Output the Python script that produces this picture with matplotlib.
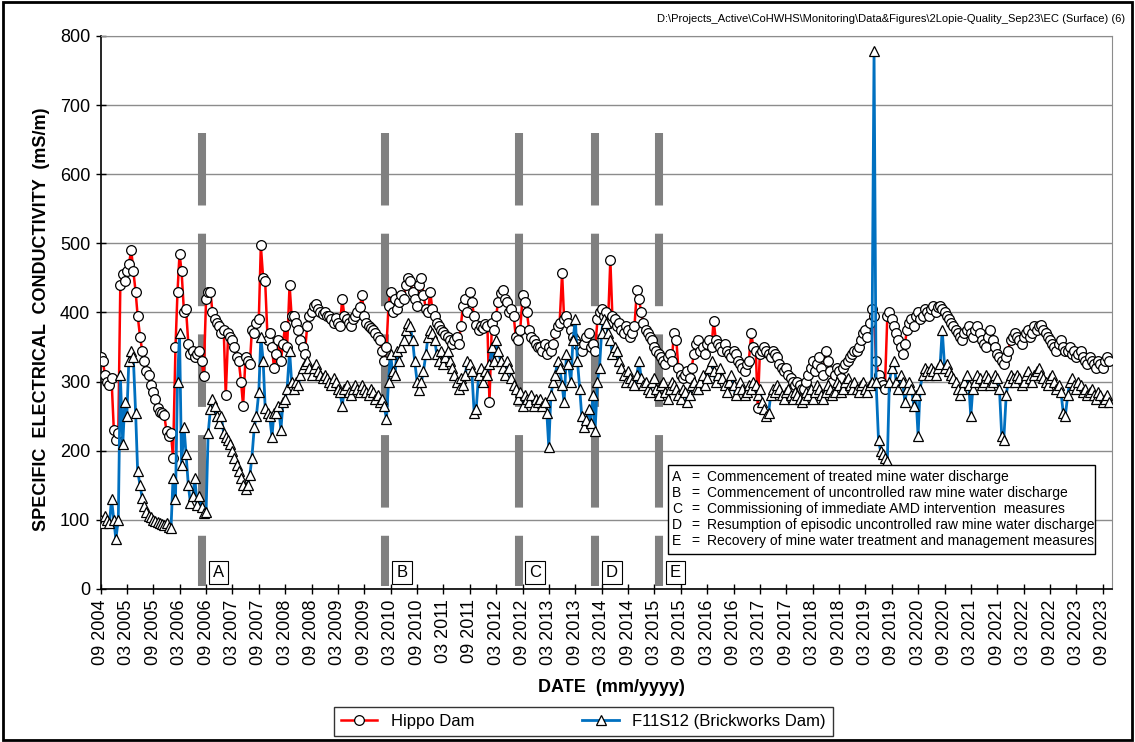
import matplotlib
matplotlib.use("Agg")
import matplotlib.pyplot as plt
import matplotlib.dates as mdates
from matplotlib.patches import Rectangle
import numpy as np
import pandas as pd

plt.rcParams["font.family"] = ["Liberation Sans", "DejaVu Sans"]

# semi-monthly samples (1st / 15th), Sep 2004 -> Oct 2023, one row per year
START = "2004-09-01"
hippo = [
    335, 330, 310, 300, 295, 305, 230, 215,
    225, 440, 455, 445, 460, 470, 490, 460, 430, 395, 365, 345, 330, 315, 310, 295, 285, 275, 262, 256, 254, 252, 228, 222,
    225, 190, 350, 430, 485, 460, 400, 405, 355, 340, 345, 335, 340, 345, 330, 308, 420, 430, 430, 400, 390, 385, 380, 370,
    375, 280, 370, 365, 360, 350, 335, 330, 300, 265, 335, 330, 325, 375, 370, 385, 390, 497, 450, 445, 360, 370, 350, 320,
    340, 360, 330, 355, 380, 350, 440, 395, 395, 385, 375, 360, 350, 340, 380, 395, 400, 410, 412, 405, 400, 398, 400, 395,
    395, 390, 385, 392, 385, 380, 420, 395, 390, 385, 380, 390, 395, 400, 408, 425, 395, 385, 380, 378, 375, 370, 365, 360,
    345, 330, 350, 410, 430, 400, 420, 405, 415, 425, 420, 440, 450, 445, 430, 420, 410, 440, 450, 425, 405, 400, 430, 405,
    395, 385, 380, 375, 372, 368, 365, 360, 355, 360, 365, 355, 380, 410, 420, 400, 430, 415, 395, 382, 375, 380, 378, 384,
    380, 270, 385, 375, 395, 415, 428, 432, 420, 415, 400, 405, 395, 365, 360, 375, 425, 415, 400, 375, 365, 360, 355, 350,
    350, 345, 355, 340, 350, 345, 355, 370, 380, 385, 457, 390, 395, 385, 375, 365, 360, 355, 350, 345, 355, 365, 370, 350,
    355, 345, 390, 400, 405, 395, 400, 385, 476, 395, 390, 380, 385, 375, 370, 380, 375, 365, 370, 380, 432, 420, 400, 385,
    375, 370, 365, 360, 350, 345, 340, 335, 330, 325, 335, 340, 330, 370, 360, 320, 310, 305, 310, 315, 305, 320, 340, 355,
    360, 345, 350, 340, 355, 360, 350, 388, 360, 355, 350, 345, 355, 345, 340, 335, 345, 340, 330, 325, 320, 315, 325, 330,
    370, 350, 345, 262, 340, 345, 350, 345, 340, 335, 345, 340, 335, 325, 320, 315, 320, 310, 305, 300, 295, 300, 295, 290,
    290, 300, 310, 320, 330, 315, 325, 335, 320, 310, 345, 330, 315, 300, 310, 320, 315, 305, 320, 325, 330, 335, 340, 345,
    345, 350, 360, 370, 375, 365, 385, 405, 395, 330, 310, 300, 295, 290, 395, 400, 390, 380, 370, 360, 350, 340, 355, 375,
    385, 390, 380, 395, 400, 390, 395, 405, 400, 395, 405, 410, 400, 408, 410, 405, 400, 395, 390, 385, 380, 375, 370, 365,
    360, 370, 375, 380, 370, 365, 375, 380, 370, 360, 355, 350, 365, 375, 360, 350, 340, 335, 330, 325, 335, 345, 360, 365,
    370, 365, 360, 355, 365, 370, 375, 365, 370, 380, 375, 380, 382, 375, 370, 365, 360, 355, 350, 345, 355, 360, 350, 345,
    345, 350, 340, 345, 335, 340, 345, 335, 330, 325, 335, 330, 325, 320, 330, 325, 320, 330, 335, 330,
]
brickworks = [
    100, 95, 105, 100, 95, 130, 100, 72,
    100, 310, 210, 270, 250, 330, 345, 335, 255, 170, 150, 132, 120, 112, 106, 104, 100, 99, 97, 95, 94, 92, 95, 90,
    88, 160, 130, 300, 370, 180, 235, 195, 150, 125, 135, 160, 122, 135, 118, 110, 112, 225, 260, 275, 265, 250, 240, 250,
    225, 220, 215, 210, 200, 190, 180, 170, 160, 150, 145, 150, 165, 190, 235, 250, 285, 365, 330, 262, 255, 250, 220, 255,
    255, 265, 230, 270, 275, 290, 345, 300, 290, 300, 295, 310, 320, 325, 330, 320, 310, 320, 325, 315, 310, 305, 310, 305,
    300, 295, 305, 300, 290, 285, 265, 290, 295, 285, 280, 290, 295, 290, 285, 295, 290, 285, 280, 290, 285, 275, 280, 270,
    275, 265, 246, 300, 340, 315, 310, 345, 330, 350, 360, 375, 385, 380, 360, 330, 300, 288, 300, 315, 340, 365, 375, 370,
    360, 340, 330, 345, 325, 335, 345, 330, 320, 310, 300, 290, 305, 295, 310, 330, 325, 315, 255, 260, 310, 320, 300, 315,
    310, 325, 350, 330, 360, 345, 330, 320, 310, 330, 320, 305, 295, 290, 275, 285, 265, 280, 275, 270, 280, 265, 275, 270,
    275, 265, 270, 255, 205, 280, 300, 310, 330, 320, 295, 270, 340, 325, 300, 360, 390, 330, 290, 250, 235, 245, 260, 240,
    280, 228, 300, 320, 370, 390, 385, 370, 360, 340, 350, 345, 330, 320, 310, 300, 315, 305, 300, 295, 310, 330, 305, 295,
    300, 290, 285, 300, 305, 290, 280, 295, 300, 285, 275, 290, 300, 295, 290, 280, 275, 290, 285, 270, 280, 295, 300, 290,
    290, 300, 310, 295, 305, 320, 330, 315, 300, 310, 320, 305, 295, 285, 300, 310, 295, 280, 290, 300, 290, 280, 285, 295,
    290, 300, 295, 280, 290, 270, 260, 250, 255, 280, 290, 285, 295, 290, 280, 275, 285, 290, 280, 275, 285, 280, 275, 270,
    275, 285, 280, 290, 275, 285, 295, 290, 280, 275, 285, 295, 290, 280, 285, 300, 295, 285, 290, 300, 305, 295, 290, 300,
    290, 285, 295, 300, 290, 285, 295, 300, 778, 300, 215, 200, 195, 190, 185, 300, 320, 330, 300, 290, 310, 300, 270, 290,
    300, 290, 265, 280, 222, 290, 310, 320, 315, 310, 320, 315, 310, 320, 325, 375, 320, 325, 315, 310, 305, 300, 290, 280,
    290, 300, 310, 295, 250, 290, 300, 310, 305, 295, 300, 310, 305, 295, 300, 310, 305, 290, 222, 215, 280, 300, 310, 305,
    300, 310, 305, 295, 300, 310, 315, 305, 300, 310, 315, 320, 310, 305, 300, 295, 305, 310, 300, 290, 295, 285, 255, 250,
    280, 300, 305, 295, 290, 300, 295, 285, 290, 280, 285, 290, 280, 275, 285, 280, 270, 275, 280, 270,
]

event_labels = ["A", "B", "C", "D", "E"]
event_dates = ["2006-08-03", "2010-01-25", "2012-08-04", "2014-01-15", "2015-04-01"]
event_notes = [
    "Commencement of treated mine water discharge",
    "Commencement of uncontrolled raw mine water discharge",
    "Commissioning of immediate AMD intervention  measures",
    "Resumption of episodic uncontrolled raw mine water discharge",
    "Recovery of mine water treatment and management measures",
]
y_ticks = np.arange(0, 801, 100)

PATH = r"D:\Projects_Active\CoHWHS\Monitoring\Data&Figures\2Lopie-Quality_Sep23\EC (Surface) (6)"

assert len(hippo) == len(brickworks)
dates = pd.date_range(START, periods=len(hippo), freq="SMS")

fig = plt.figure(figsize=(11.35, 7.42), dpi=100)
ax = fig.add_axes([0.0887, 0.2062, 0.8907, 0.7453])

# event markers (dashed grey bars) + letter boxes
for lab, d in zip(event_labels, event_dates):
    t = pd.Timestamp(d)
    ax.plot([t, t], [660, 5], color="#808080", lw=5.8, dashes=(9, 3.5),
            dash_capstyle="butt", solid_capstyle="butt", zorder=2)
    ax.annotate(lab, xy=(t, 24), xytext=(12, 0), textcoords="offset points",
                ha="center", va="center", fontsize=12, zorder=6,
                bbox=dict(boxstyle="square,pad=0.25", fc="white", ec="black", lw=0.8))

ax.plot(dates, hippo, color="#ff0000", lw=1.8, marker="o", ms=7, mfc="white",
        mec="black", mew=0.9, label="Hippo Dam", zorder=3)
ax.plot(dates, brickworks, color="#0070c0", lw=2.0, marker="^", ms=7, mfc="white",
        mec="black", mew=0.9, label="F11S12 (Brickworks Dam)", zorder=4)

ax.set_ylim(0, 800)
ax.set_yticks(y_ticks)
ax.set_xlim(pd.Timestamp("2004-09-01"), pd.Timestamp("2023-11-01"))
ax.xaxis.set_major_locator(mdates.MonthLocator(bymonth=[3, 9]))
ax.xaxis.set_major_formatter(mdates.DateFormatter("%m %Y"))
plt.setp(ax.get_xticklabels(), rotation=90)
ax.grid(axis="y", color="#8c8c8c", lw=1)
ax.set_axisbelow(True)
for s in ("top", "right"):
    ax.spines[s].set_color("#8c8c8c")
for s in ("left", "bottom"):
    ax.spines[s].set_color("black")
    ax.spines[s].set_linewidth(1.2)
ax.tick_params(axis="both", direction="inout", length=7, width=1, labelsize=13, pad=4)

# notes box
ax.add_patch(Rectangle((0.5611, 0.0633), 0.4224, 0.1609, transform=ax.transAxes,
                       fc="white", ec="black", lw=1, zorder=7))
for i, (lab, note) in enumerate(zip(event_labels, event_notes)):
    yy = 0.2031 - i * 0.0291
    ax.text(0.5651, yy, lab, transform=ax.transAxes, fontsize=10, va="center", zorder=8)
    ax.text(0.5878, yy, "=", transform=ax.transAxes, fontsize=10, va="center", ha="center", zorder=8)
    ax.text(0.5993, yy, note, transform=ax.transAxes, fontsize=10, va="center", zorder=8)

fig.text(0.037, 0.57, "SPECIFIC  ELECTRICAL  CONDUCTIVITY  (mS/m)", rotation=90,
         ha="center", va="center", fontsize=13, fontweight="bold")
fig.text(0.539, 0.074, "DATE  (mm/yyyy)", ha="center", va="center", fontsize=13, fontweight="bold")
fig.text(0.991, 0.974, PATH, ha="right", va="center", fontsize=8)

leg = fig.legend(loc="center", bbox_to_anchor=(0.514, 0.0276), ncol=2, fontsize=12,
                 frameon=True, fancybox=False, edgecolor="black", columnspacing=6.5,
                 handlelength=2.2, borderpad=0.4)
leg.get_frame().set_linewidth(1)

fig.patches.append(Rectangle((0.003, 0.003), 0.994, 0.994, transform=fig.transFigure,
                             fill=False, ec="black", lw=2))

fig.savefig("out.png", dpi=100)
